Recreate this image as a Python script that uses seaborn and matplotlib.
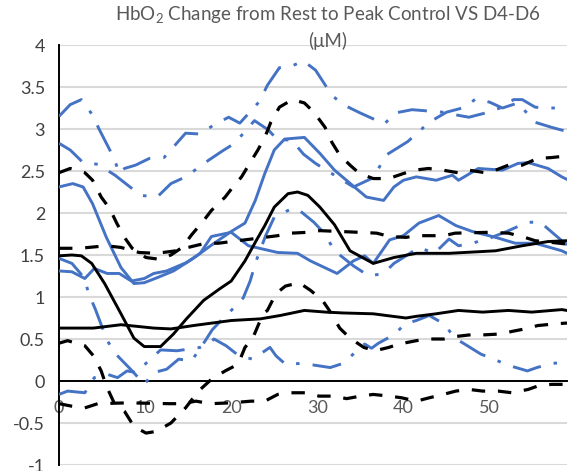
import numpy as np
import pandas as pd
import matplotlib
matplotlib.use('Agg')
import matplotlib.pyplot as plt
import seaborn as sns
from matplotlib.ticker import MultipleLocator

# ====================== 1. DATA ======================
# Control group (black): mean = solid, mean +/- SD = dashed
ctrl1_x = [0, 1.5, 2.6, 3.8, 5.3, 7.2, 8.7, 9.9, 11.8, 13.3, 14.8, 16.8, 18.7, 20, 21.6, 22.9, 23.9, 25,
           26.6, 27.7, 28.9, 30.3, 32, 33.8, 36.5, 38.9, 41.5, 45.3, 50.7, 53.8, 56.8, 59]
ctrl1 = [1.49, 1.5, 1.49, 1.4, 1.16, 0.8, 0.51, 0.41, 0.41, 0.56, 0.74, 0.96, 1.1, 1.19, 1.43, 1.67, 1.85, 2.07,
         2.23, 2.25, 2.21, 2.07, 1.86, 1.55, 1.4, 1.47, 1.52, 1.52, 1.55, 1.61, 1.66, 1.67]

ctrl1_hi_x = [0, 1.3, 3, 3.9, 4.9, 5.9, 6.7, 7.6, 8.5, 10.1, 11.6, 13, 14.3, 15.4, 16.8, 17.7, 19.3, 20.2, 21.2,
              22.2, 23.1, 23.9, 24.6, 25.6, 27.1, 28.5, 29.6, 30.9, 31.7, 32.6, 33.8, 34.9, 36.5, 38.3, 40, 41.3,
              42.9, 44.6, 46.3, 47.6, 49.5, 50.7, 52.2, 53.8, 55.6, 57.2, 59]
ctrl1_hi = [2.48, 2.53, 2.48, 2.39, 2.19, 2.05, 1.88, 1.71, 1.58, 1.47, 1.45, 1.5, 1.59, 1.74, 1.91, 2.03, 2.19,
            2.31, 2.43, 2.6, 2.75, 2.9, 3.08, 3.26, 3.35, 3.31, 3.2, 3.02, 2.84, 2.69, 2.57, 2.47, 2.41, 2.41,
            2.47, 2.51, 2.53, 2.51, 2.48, 2.51, 2.48, 2.51, 2.57, 2.57, 2.65, 2.66, 2.68]

ctrl1_lo_x = [0, 1, 3, 4, 4.9, 5.5, 6.4, 7.6, 8.7, 10.1, 11.3, 13, 14.7, 16.2, 17.7, 19.3, 20.8, 21.6, 22.5,
              23.7, 24.2, 25.2, 26.3, 27.9, 29.2, 30.6, 31.4, 32.6, 33.8, 35.4, 36.7, 38.3, 39.5, 41.5, 43, 44.7,
              46.1, 47.8, 49.5, 51.3, 52.6, 54.1, 55.6, 57.6, 59]
ctrl1_lo = [0.45, 0.48, 0.42, 0.3, 0.12, -0.06, -0.26, -0.36, -0.54, -0.62, -0.6, -0.5, -0.32, -0.12, 0.02, 0.12,
            0.2, 0.4, 0.51, 0.8, 0.84, 1.04, 1.13, 1.17, 1.08, 0.96, 0.84, 0.63, 0.51, 0.4, 0.36, 0.4, 0.44, 0.48,
            0.5, 0.5, 0.53, 0.55, 0.55, 0.56, 0.59, 0.62, 0.66, 0.68, 0.69]

ctrl2_x = [0, 4, 7.2, 11, 13, 15.6, 20, 23.4, 25.7, 28.5, 31, 33, 36.5, 38, 40.3, 41.5, 43.8, 46.4, 49.2, 52.2,
           54.9, 58.4, 59]
ctrl2 = [0.63, 0.63, 0.67, 0.63, 0.62, 0.66, 0.72, 0.74, 0.78, 0.84, 0.82, 0.81, 0.8, 0.78, 0.75, 0.77, 0.8,
         0.84, 0.82, 0.84, 0.82, 0.85, 0.84]

ctrl2_hi_x = [0, 2.4, 5.5, 7.2, 9.3, 11.3, 13.6, 15, 17, 18.5, 20.8, 25.4, 26.9, 28.9, 30.3, 34.9, 36.9, 38.4,
              40.3, 41.5, 44.7, 46, 49.9, 52.2, 54.1, 55.3, 57.2, 59]
ctrl2_hi = [1.58, 1.58, 1.61, 1.59, 1.53, 1.52, 1.55, 1.59, 1.64, 1.64, 1.67, 1.73, 1.76, 1.77, 1.79, 1.77, 1.76,
            1.72, 1.71, 1.73, 1.73, 1.76, 1.77, 1.76, 1.71, 1.67, 1.65, 1.63]

ctrl2_lo_x = [0, 1.5, 3, 4.5, 8, 12.8, 14.3, 15.9, 17.6, 20, 22.3, 23.9, 25.4, 26.9, 28.6, 30.2, 32, 33.4, 35,
              36.5, 38.4, 39.8, 41.5, 43, 44.6, 46.1, 47.6, 49.2, 51, 52.6, 54.5, 55.6, 57.2, 59]
ctrl2_lo = [-0.27, -0.3, -0.32, -0.27, -0.26, -0.27, -0.27, -0.24, -0.27, -0.26, -0.24, -0.24, -0.16, -0.14,
            -0.14, -0.18, -0.18, -0.21, -0.18, -0.16, -0.18, -0.2, -0.24, -0.2, -0.16, -0.12, -0.1, -0.12, -0.12,
            -0.14, -0.1, -0.06, -0.04, -0.04]

# D4-D6 group (blue): mean = solid, mean +/- SD = long dash dot
d46a_x = [0, 1.6, 2.8, 3.9, 5.5, 7.2, 8.7, 9.9, 11.4, 13.3, 15.6, 17.6, 20, 21.6, 22.8, 23.9, 25, 26.2, 28.5,
          30.3, 32, 34.3, 35.7, 37.7, 38.9, 40, 41.5, 43.8, 45.7, 46.4, 48.7, 51.5, 53.3, 54.5, 56.8, 58.4, 59]
d46a = [2.31, 2.35, 2.31, 2.11, 1.71, 1.35, 1.16, 1.17, 1.23, 1.31, 1.46, 1.61, 1.78, 1.88, 2.15, 2.47, 2.75,
        2.88, 2.9, 2.71, 2.51, 2.31, 2.19, 2.15, 2.31, 2.39, 2.43, 2.39, 2.45, 2.39, 2.53, 2.51, 2.59, 2.6, 2.53,
        2.43, 2.4]

d46a_hi_x = [0, 1.3, 2.6, 3.8, 4.7, 6.4, 7, 7.6, 8.9, 10.5, 12.2, 14.7, 16.4, 18, 19.7, 21, 23.3, 24.2, 25.6,
             26.8, 28.4, 29.8, 31.7, 33, 35, 37.8, 39, 41, 44.6, 46, 47.6, 49.5, 51.5, 52.8, 53.8, 55.3, 56.4,
             58.2, 59]
d46a_hi = [3.15, 3.29, 3.35, 3.18, 2.99, 2.65, 2.47, 2.53, 2.57, 2.65, 2.66, 2.95, 2.94, 3.05, 3.14, 3.07, 3.33,
           3.52, 3.73, 3.74, 3.81, 3.7, 3.4, 3.29, 3.19, 3.06, 3.19, 3.23, 3.2, 3.17, 3.14, 3.19, 3.26, 3.35, 3.35,
           3.26, 3.25, 3.25, 3.24]

d46a_lo_x = [0, 1.5, 3, 3.4, 4.2, 5.6, 6.7, 8.5, 9.9, 11, 12.5, 13.9, 15.4, 16.8, 17.8, 19.1, 20.8, 21.4, 22.2,
             22.9, 24, 25, 27, 27.7, 29.6, 30.8, 32, 34.2, 36, 37.7, 38.9, 40.3, 41.8, 43.6, 45.3, 46.4, 48, 50,
             52, 54.4, 55.9, 58.4, 59]
d46a_lo = [1.46, 1.4, 1.22, 1.05, 0.86, 0.48, 0.31, 0.12, -0.04, 0.1, 0.14, 0.26, 0.24, 0.45, 0.61, 0.75, 0.92,
           0.99, 1.19, 1.43, 1.73, 1.95, 2.05, 2.05, 1.89, 1.76, 1.55, 1.37, 1.25, 1.28, 1.4, 1.49, 1.59, 1.52,
           1.69, 1.61, 1.64, 1.7, 1.78, 1.89, 1.89, 1.67, 1.62]

d46b_x = [0, 1.5, 3, 4.1, 5.6, 7, 8.4, 9.9, 11, 12.5, 14.8, 16.4, 17.7, 20, 22, 25.4, 27.7, 29.2, 32.3, 34.2,
          35.5, 36.5, 38.4, 40, 41.8, 44.1, 46.1, 48, 50.7, 53, 55.3, 58.4, 59]
d46b = [1.31, 1.3, 1.22, 1.34, 1.28, 1.28, 1.19, 1.22, 1.28, 1.31, 1.41, 1.52, 1.72, 1.77, 1.61, 1.53, 1.52,
        1.43, 1.28, 1.43, 1.49, 1.4, 1.68, 1.73, 1.88, 1.97, 1.85, 1.78, 1.71, 1.64, 1.64, 1.55, 1.52]

d46b_hi_x = [0, 1.3, 2.8, 4.5, 6.5, 8.5, 9.5, 11.4, 13, 14.7, 17.4, 19, 20.4, 22.7, 24.3, 25.4, 27, 28.4, 29.8,
             32.3, 34.2, 36.5, 38, 40.5, 43, 45, 47.2, 48.4, 50, 51.5, 53.3, 55.3, 57.2, 59]
d46b_hi = [2.83, 2.75, 2.6, 2.58, 2.45, 2.29, 2.21, 2.19, 2.35, 2.43, 2.63, 2.74, 2.83, 3.1, 2.99, 2.87, 2.87,
           2.7, 2.59, 2.43, 2.31, 2.42, 2.69, 2.85, 3.08, 3.2, 3.26, 3.36, 3.32, 3.25, 3.31, 3.08, 3.02, 2.97]

d46b_lo_x = [0, 1, 3, 4.1, 5.6, 6.8, 7.9, 9, 10.2, 11.8, 13.7, 16.4, 17.6, 18, 19.4, 20.9, 22.5, 24.5, 25.2,
             26.3, 28.3, 31.5, 33, 34.6, 35.5, 36.3, 37.1, 38.9, 40.2, 41.5, 43, 44.7, 46, 49, 50.7, 52.4, 54.4,
             55.5, 57.2, 59]
d46b_lo = [-0.16, -0.12, -0.14, 0.04, 0.08, 0.04, 0.12, 0.1, 0.22, 0.37, 0.36, 0.4, 0.46, 0.5, 0.42, 0.3, 0.26,
           0.4, 0.3, 0.2, 0.21, 0.16, 0.21, 0.36, 0.44, 0.39, 0.45, 0.55, 0.68, 0.72, 0.78, 0.68, 0.51, 0.32, 0.25,
           0.18, 0.12, 0.16, 0.21, 0.22]

x_ticks = [0, 10, 20, 30, 40, 50]
y_ticks = [-1, -0.5, 0, 0.5, 1, 1.5, 2, 2.5, 3, 3.5, 4]
y_tick_labels = ['-1', '-0.5', '0', '0.5', '1', '1.5', '2', '2.5', '3', '3.5', '4']
title = "HbO$_\\mathregular{2}$ Change from Rest to Peak Control VS D4-D6\n(\u03bcM)"

# ====================== 2. STYLE ======================
sns.set_style("white")
plt.rcParams['font.family'] = ['Lato', 'DejaVu Sans']

BLUE = '#4472C4'
BLACK = '#000000'
solid = '-'
dashed = (0, (4.2, 4.0))
dash_dot = (0, (10, 4.5, 1.2, 4.5))

series = [
    # (x, y, color, linewidth, linestyle)
    (d46a_hi_x, d46a_hi, BLUE, 2.1, dash_dot),
    (d46a_lo_x, d46a_lo, BLUE, 2.1, dash_dot),
    (d46b_hi_x, d46b_hi, BLUE, 2.1, dash_dot),
    (d46b_lo_x, d46b_lo, BLUE, 2.1, dash_dot),
    (d46a_x, d46a, BLUE, 2.1, solid),
    (d46b_x, d46b, BLUE, 2.1, solid),
    (ctrl1_hi_x, ctrl1_hi, BLACK, 2.3, dashed),
    (ctrl1_lo_x, ctrl1_lo, BLACK, 2.3, dashed),
    (ctrl2_hi_x, ctrl2_hi, BLACK, 2.3, dashed),
    (ctrl2_lo_x, ctrl2_lo, BLACK, 2.3, dashed),
    (ctrl1_x, ctrl1, BLACK, 2.1, solid),
    (ctrl2_x, ctrl2, BLACK, 2.1, solid),
]

# ====================== 3. PLOT ======================
fig = plt.figure(figsize=(5.71, 4.71), dpi=100)
ax = fig.add_axes([59 / 571, 1 - 465 / 471, 508 / 571, 420 / 471])

for xs, ys, color, lw, ls in series:
    sns.lineplot(x=xs, y=ys, ax=ax, color=color, linewidth=lw, linestyle=ls,
                 sort=False, errorbar=None, zorder=3)

# axes: y axis on the left, x axis crossing at zero
for side in ['top', 'right']:
    ax.spines[side].set_visible(False)
ax.spines['bottom'].set_position(('data', 0))
for side in ['left', 'bottom']:
    ax.spines[side].set_color('black')
    ax.spines[side].set_linewidth(1.4)
    ax.spines[side].set_zorder(2)

ax.set_yticks(y_ticks, y_tick_labels)
ax.yaxis.set_minor_locator(MultipleLocator(0.25))
ax.set_xticks(x_ticks, [str(v) for v in x_ticks])
ax.xaxis.set_minor_locator(MultipleLocator(2.5))
ax.set_xlim(0, 59)
ax.set_ylim(-1, 4)

ax.tick_params(axis='both', which='both', direction='inout', length=8, width=1.4, color='black')
ax.tick_params(axis='y', which='major', pad=6, labelsize=13, labelcolor='#404040')
ax.tick_params(axis='x', which='major', pad=10, labelsize=13, labelcolor='#595959')

ax.grid(axis='y', which='major', color='#D9D9D9', linewidth=1.5, zorder=0)
ax.grid(axis='x', visible=False)
ax.set_axisbelow(True)
ax.set_xlabel('')
ax.set_ylabel('')

fig.text(328 / 571, 1 - 5 / 471, title, ha='center', va='top', fontsize=13.5,
         color='#595959', linespacing=1.35)

fig.savefig('out.png', dpi=100)
print("saved out.png")
